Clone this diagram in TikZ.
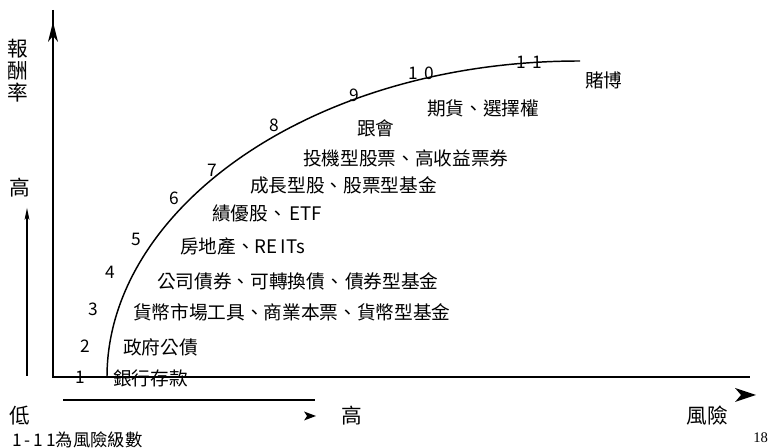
\documentclass[tikz,border=0pt]{standalone}
\usepackage{fontspec}
\setmainfont{Noto Sans CJK TC}
\newfontfamily\pgnum{Liberation Serif}
\usetikzlibrary{arrows.meta}
\begin{document}
\begin{tikzpicture}[x=0.75pt,y=-0.75pt,
  lbl/.style={inner sep=0pt,anchor=west,font=\fontsize{14}{15}\selectfont},
  num/.style={inner sep=0pt,font=\fontsize{13}{14}\selectfont},
  axl/.style={inner sep=0pt,font=\fontsize{15.5}{16.5}\selectfont},
  axis/.style={line width=1.2pt},
  head/.style={fill=black,draw=none}]
\useasboundingbox (0,0) rectangle (768,448);
\clip (0,0) rectangle (768,448);
% axes
\coordinate (o) at (53,377);
\coordinate (ytop) at (53,10);
\coordinate (xend) at (750,377);
\draw[axis] (ytop) -- (o) -- (xend);
\draw[head] (53,22) -- (58,42) -- (53,36) -- (48,42) -- cycle;
\draw[head] (756,395) -- (735,388) -- (741,395) -- (735,402) -- cycle;
% secondary axes
\coordinate (ylow) at (27,376);
\coordinate (yhigh) at (27,212);
\draw[line width=1pt] (ylow) -- (yhigh);
\draw[head] (27,208) -- (29.5,220) -- (27,217) -- (24.5,220) -- cycle;
\coordinate (xl) at (63,400);
\coordinate (xr) at (315,400);
\draw[line width=1pt] (xl) -- (xr);
\draw[head] (316,416) -- (304,411.5) -- (307,416) -- (304,420.5) -- cycle;
% curve
\coordinate (c0) at (107,377);
\coordinate (c1) at (580,61);
\draw[line width=1.1pt] (c0) .. controls (107,210) and (310,61) .. (c1);
% numbers
\node[num] (n1) at (80,377) {1};
\node[num] (n2) at (85,346) {2};
\node[num] (n3) at (93,309) {3};
\node[num] (n4) at (110,272) {4};
\node[num] (n5) at (136,239) {5};
\node[num] (n6) at (174,198) {6};
\node[num] (n7) at (212,170) {7};
\node[num] (n8) at (274,125) {8};
\node[num] (n9) at (354,95) {9};
\node[num] (n10) at (421,73) {1\hspace{5pt}0};
\node[num] (n11) at (529,62) {1\hspace{5pt}1};
% labels
\node[lbl] (l1) at (113,378) {銀行存款};
\node[lbl] (l2) at (123,347) {政府公債};
\node[lbl] (l3) at (133,312) {貨幣市場工具、商業本票、貨幣型基金};
\node[lbl] (l4) at (157,281) {公司債券、可轉換債、\hspace{1pt}債券型基金};
\node[lbl] (l5) at (180,246) {房地產、RE\,ITs};
\node[lbl] (l6) at (212,213) {績優股、\hspace{2pt}ETF};
\node[lbl] (l7) at (250,185) {成長型股、股票型基金};
\node[lbl] (l8) at (303,158) {投機型股票、高收益票券};
\node[lbl] (l9) at (357,128) {跟會};
\node[lbl] (l10) at (427,108) {期貨、選擇權};
\node[lbl] (l11) at (585,80) {賭博};
% axis labels
\node[axl,align=center] (ret) at (18,71) {報\\酬\\率};
\node[axl] (hi1) at (20,188) {高};
\node[axl] (lo) at (20,416) {低};
\node[axl] (hi2) at (352,416) {高};
\node[axl] (risk) at (707,416) {風險};
\node[lbl,font=\fontsize{13}{14}\selectfont] (note) at (12,440) {1\,-\,1\,1為風險級數};
\node[inner sep=0pt,anchor=west,font=\pgnum\fontsize{11}{12}\selectfont] (pg) at (753,438) {18};
\end{tikzpicture}
\end{document}
